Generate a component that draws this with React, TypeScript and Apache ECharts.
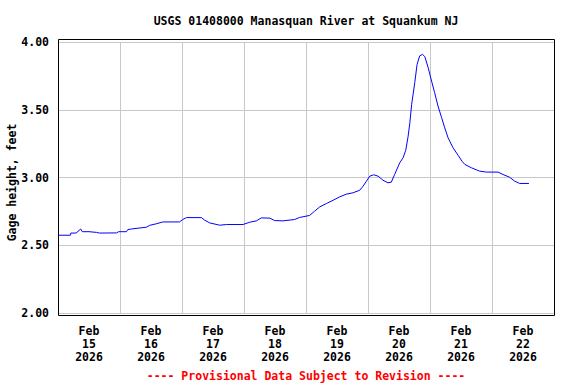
import React, { useEffect, useRef } from "react";
import * as echarts from "echarts";

const titleText = "USGS 01408000 Manasquan River at Squankum NJ";
const yAxisName = "Gage height, feet";
const footerText = "---- Provisional Data Subject to Revision ----";

// hours since Feb 15 2026 00:00
const hours = [
  0, 4.8, 5.0, 7.0, 8.8, 9.4, 12, 14.9, 16, 22.6, 23.5, 26.5, 27, 28.4, 34.2, 35.5, 38, 40.6,
  47, 48.3, 49.7, 55.5, 56.8, 58.7, 62.6, 65.2, 71.6, 74.2, 76.8, 78.7, 82, 83.9, 87.1, 91.6,
  93.5, 97.4, 99.3, 101.3, 103.9, 106.5, 109, 111.6, 114.2, 116.8, 118.1, 119.4, 120.7, 122.2,
  123.9, 125.8, 127.7, 129, 130.3, 132.3, 133.6, 134.6, 135.5, 136.2, 136.9, 138.1, 139, 140,
  141.1, 142, 143.3, 144.6, 145.8, 147.1, 148.5, 149.7, 151, 152.9, 154.9, 156.4, 157.5, 160,
  163.2, 165.8, 170.3, 172.3, 174.8, 176.8, 178.7, 182.3,
];
const gageHeight = [
  2.574, 2.574, 2.59, 2.59, 2.62, 2.6, 2.6, 2.595, 2.59, 2.591, 2.6, 2.6, 2.615, 2.62, 2.633,
  2.647, 2.658, 2.672, 2.672, 2.69, 2.704, 2.704, 2.685, 2.665, 2.648, 2.653, 2.653, 2.67, 2.68,
  2.702, 2.7, 2.682, 2.68, 2.69, 2.705, 2.72, 2.751, 2.783, 2.808, 2.832, 2.857, 2.877, 2.887,
  2.906, 2.936, 2.973, 3.01, 3.02, 3.01, 2.98, 2.961, 2.965, 3.022, 3.109, 3.146, 3.2, 3.3,
  3.404, 3.54, 3.7, 3.835, 3.897, 3.909, 3.892, 3.81, 3.712, 3.626, 3.527, 3.441, 3.367, 3.293,
  3.22, 3.163, 3.12, 3.096, 3.072, 3.047, 3.04, 3.04, 3.022, 3.002, 2.973, 2.956, 2.956,
];
const dayLabels = [
  "Feb\n15\n2026", "Feb\n16\n2026", "Feb\n17\n2026", "Feb\n18\n2026",
  "Feb\n19\n2026", "Feb\n20\n2026", "Feb\n21\n2026", "Feb\n22\n2026",
];

const FONT = "'DejaVu Sans Mono', 'Liberation Mono', monospace";

export default function App() {
  const ref = useRef<HTMLDivElement>(null);
  useEffect(() => {
    if (!ref.current) return;
    const chart = echarts.init(ref.current, null, { renderer: "svg" });
    const data = hours.map((h, i) => [h, gageHeight[i]]);
    chart.setOption({
      animation: false,
      backgroundColor: "#ffffff",
      grid: { left: 58, top: 42, width: 496, height: 271 },
      xAxis: [
        {
          type: "value",
          min: 0,
          max: 192,
          interval: 24,
          axisLine: { show: false },
          axisTick: { show: false },
          axisLabel: { show: false },
          splitLine: { show: true, lineStyle: { color: "#c8c8c8", width: 1 } },
        },
        {
          type: "category",
          position: "bottom",
          data: dayLabels,
          boundaryGap: true,
          axisLine: { show: false },
          axisTick: { show: false },
          splitLine: { show: false },
          axisLabel: {
            margin: 11,
            color: "#000",
            fontFamily: FONT,
            fontWeight: "bold",
            fontSize: 11.5,
            lineHeight: 13,
            interval: 0,
          },
        },
      ],
      yAxis: {
        type: "value",
        min: 2,
        max: 4,
        interval: 0.5,
        axisLine: { show: false },
        axisTick: { show: false },
        axisLabel: {
          margin: 9,
          color: "#000",
          fontFamily: FONT,
          fontWeight: "bold",
          fontSize: 11.5,
          formatter: (v: number) => v.toFixed(2),
        },
        splitLine: { show: true, lineStyle: { color: "#c8c8c8", width: 1 } },
      },
      graphic: [
        {
          type: "rect",
          shape: { x: 58.5, y: 39.5, width: 496, height: 276 },
          style: { fill: "none", stroke: "#000", lineWidth: 1 },
          z: 100,
        },
        {
          type: "text",
          x: 306,
          y: 21,
          style: {
            text: titleText,
            fill: "#000",
            font: `bold 11.5px ${FONT}`,
            align: "center",
            verticalAlign: "middle",
          },
        },
        {
          type: "text",
          x: 11.5,
          y: 182.5,
          rotation: Math.PI / 2,
          style: {
            text: yAxisName,
            fill: "#000",
            font: `bold 11.5px ${FONT}`,
            align: "center",
            verticalAlign: "middle",
          },
        },
        {
          type: "text",
          x: 306,
          y: 375.5,
          style: {
            text: footerText,
            fill: "#ff0000",
            font: `bold 11.5px ${FONT}`,
            align: "center",
            verticalAlign: "middle",
          },
        },
      ],
      series: [
        {
          type: "line",
          xAxisIndex: 0,
          data,
          showSymbol: false,
          symbol: "none",
          lineStyle: { color: "#0000ff", width: 1 },
        },
      ],
    });
    return () => chart.dispose();
  }, []);
  return (
    <div
      ref={ref}
      style={{ position: "fixed", left: 0, top: 0, width: 576, height: 384 }}
    />
  );
}
